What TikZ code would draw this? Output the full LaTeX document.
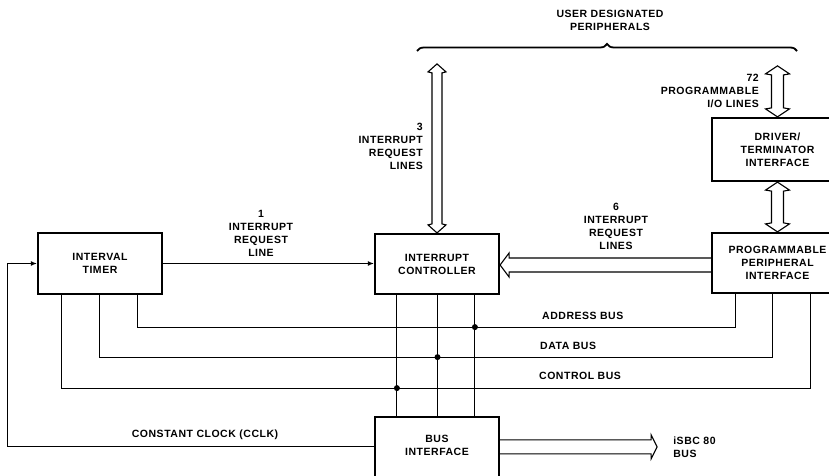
\documentclass[tikz,border=0pt]{standalone}
\usepackage{fontspec}
\setmainfont{Liberation Sans}[LetterSpace=5]
\usetikzlibrary{calc,arrows.meta,decorations.pathreplacing}
\newcommand{\dfont}{\bfseries\fontsize{10.5}{13}\selectfont}
\newcommand{\hvarr}[4]{%
  \draw[hollow] (#1) -- ($(#1)+(#4,8)$) -- ($(#1)+(#3,9)$) -- ($(#2)+(#3,-9)$) -- ($(#2)+(#4,-8)$) -- (#2)
    -- ($(#2)+(-#4,-8)$) -- ($(#2)+(-#3,-9)$) -- ($(#1)+(-#3,9)$) -- ($(#1)+(-#4,8)$) -- cycle;}
\begin{document}
\begin{tikzpicture}[x=1pt,y=-1pt,
  box/.style={draw,line width=2.2pt,align=center,inner sep=0pt,font=\dfont},
  lbl/.style={font=\dfont,inner sep=0pt},
  wire/.style={line width=1.1pt},
  hollow/.style={line width=1.1pt,line join=miter},
  dot/.style={circle,fill,inner sep=0pt,minimum size=6pt},
  tip/.style={-{Latex[length=6pt,width=5pt]}}]
\useasboundingbox (0,0) rectangle (829,476);
\clip (0,0) rectangle (829,476);

% boxes
\node[box,minimum width=124pt,minimum height=61pt] (it) at (100,263.5) {INTERVAL\\TIMER};
\node[box,minimum width=124pt,minimum height=60pt] (ic) at (437,264) {INTERRUPT\\CONTROLLER};
\node[box,minimum width=131pt,minimum height=60pt] (ppi) at (777.5,263) {PROGRAMMABLE\\PERIPHERAL\\INTERFACE};
\node[box,minimum width=131pt,minimum height=63pt] (drv) at (777.5,149.5) {DRIVER/\\TERMINATOR\\INTERFACE};
\node[box,minimum width=124pt,minimum height=64pt,text depth=7pt] (bif) at (437,449) {BUS\\INTERFACE};

% interrupt line timer -> controller
\draw[wire,tip] (it.east) -- (it.east -| ic.west);

% constant clock
\coordinate (clk) at ($(bif.north west)+(0,31)$);
\draw[wire,tip] (clk) -| ($(it.west)+(-29,0)$) -- (it.west);

% buses
\draw[wire] ($(it.south west)+(101,0)$) -- ++(0,32) coordinate (abL) -| ($(ppi.south west)+(25,0)$);
\draw[wire] ($(it.south west)+(63,0)$) -- ++(0,62) coordinate (dbL) -| ($(ppi.south west)+(62,0)$);
\draw[wire] ($(it.south west)+(25,0)$) -- ++(0,93) coordinate (cbL) -| ($(ppi.south west)+(100,0)$);

% controller to bus interface
\coordinate (v1) at ($(ic.south west)+(23,0)$);
\coordinate (v2) at ($(ic.south)+(0.5,0)$);
\coordinate (v3) at ($(ic.south west)+(101,0)$);
\draw[wire] (v1) -- (v1 |- bif.north);
\draw[wire] (v2) -- (v2 |- bif.north);
\draw[wire] (v3) -- (v3 |- bif.north);
\node[dot] (d1) at (v3 |- abL) {};
\node[dot] (d2) at (v2 |- dbL) {};
\node[dot] (d3) at (v1 |- cbL) {};

% hollow arrows
\coordinate (irqtop) at ($(ic.north)+(0,-169)$);
\hvarr{irqtop}{ic.north}{5}{9}
\coordinate (iotop) at ($(drv.north)+(0,-51)$);
\hvarr{iotop}{drv.north}{6}{12}
\hvarr{drv.south}{ppi.north}{6}{12}

\coordinate (hu) at ($(ic.east)+(9,-6)$);
\coordinate (hd) at ($(ic.east)+(9,8)$);
\draw[hollow] (hu -| ppi.west) -- (hu) -- ($(hu)+(0,-5)$) -- ($(ic.east)+(0,1)$) -- ($(hd)+(0,5)$) -- (hd) -- (hd -| ppi.west);

\coordinate (sb) at ($(bif.north east)+(0,31)$);
\coordinate (sbtip) at ($(sb)+(157,0)$);
\draw[hollow] ($(sb)+(0,-7)$) -- ($(sbtip)+(-6,-7)$) -- ($(sbtip)+(-6,-12)$) -- (sbtip) -- ($(sbtip)+(-6,12)$) -- ($(sbtip)+(-6,7)$) -- ($(sb)+(0,7)$);
\node[lbl,anchor=west,align=left] (isbc) at ($(sbtip)+(16,0)$) {iSBC 80\\BUS};

% brace
\draw[line width=1.8pt,decorate,decoration={brace,amplitude=7pt}] (417,51) -- (797,51);

% labels
\node[lbl,align=center] (l1) at (261,233.5) {1\\INTERRUPT\\REQUEST\\LINE};
\node[lbl,align=right,anchor=east] (l3) at (423,146.5) {3\\INTERRUPT\\REQUEST\\LINES};
\node[lbl,align=center] (l6) at (616,226.5) {6\\INTERRUPT\\REQUEST\\LINES};
\node[lbl,align=right,anchor=east] (l72) at (759,90.5) {72\\PROGRAMMABLE\\I/O LINES};
\node[lbl,align=center] (ud) at (610,20.5) {USER DESIGNATED\\PERIPHERALS};
\node[lbl,anchor=west] (ab) at (542,316) {ADDRESS BUS};
\node[lbl,anchor=west] (db) at (540,346) {DATA BUS};
\node[lbl,anchor=west] (cb) at (539,376) {CONTROL BUS};
\node[lbl] (ck) at (205,435) {CONSTANT CLOCK (CCLK)};
\end{tikzpicture}
\end{document}
